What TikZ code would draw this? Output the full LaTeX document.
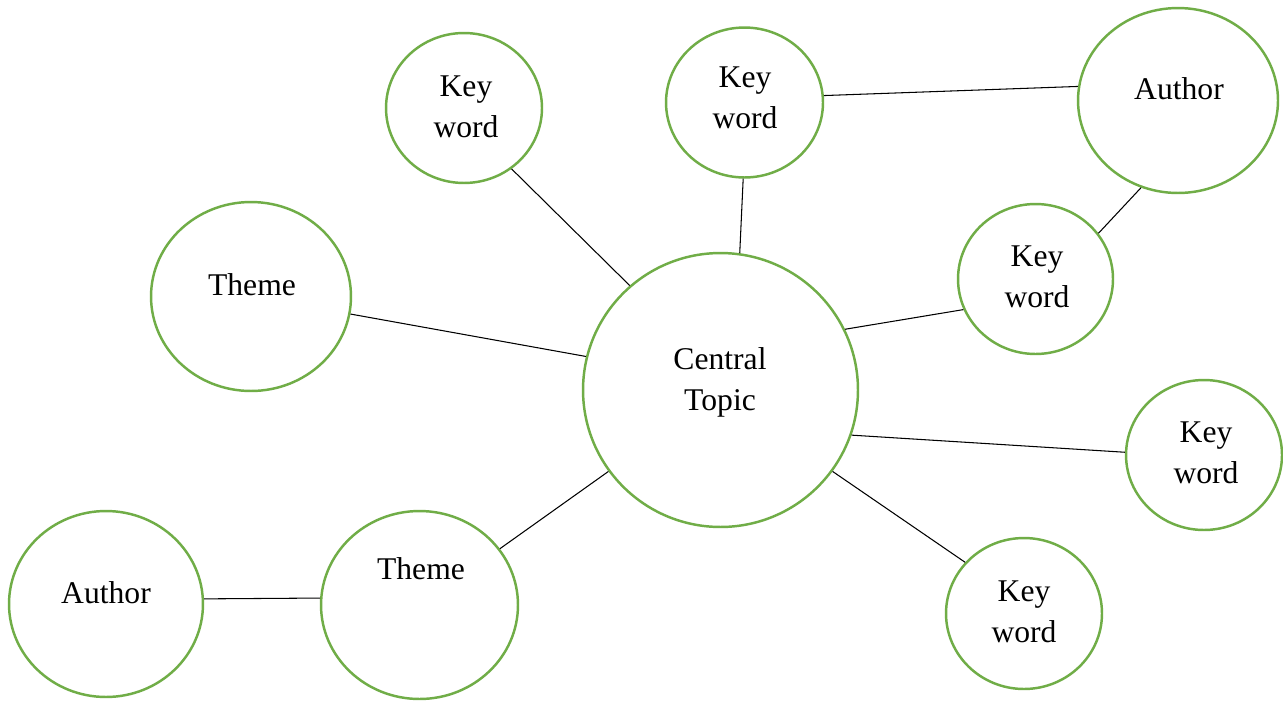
\documentclass[tikz,border=0pt]{standalone}
\usepackage{fontspec}
\setmainfont{Liberation Serif}
\usetikzlibrary{shapes.geometric}
\definecolor{bubble}{HTML}{70AD47}
\tikzset{
  bub/.style={ellipse, draw=bubble, line width=1.4pt, inner sep=0pt, fill=white},
  kw/.style={bub, minimum width=3.12cm, minimum height=3.0cm},
  lbl/.style={inner sep=0pt, align=center, text depth=0pt, font=\fontsize{18}{23}\selectfont},
  link/.style={draw=black, line width=0.6pt}
}
\begin{document}
\begin{tikzpicture}[x=0.02cm, y=-0.02cm]
\useasboundingbox[fill=white] (0,0) rectangle (1283,700);
% bubbles
\node[bub, minimum width=5.5cm, minimum height=5.48cm] (ct) at (720.5,390) {};
\node[kw] (k1) at (464,108) {};
\node[kw, minimum width=3.14cm] (k2) at (744.5,102.5) {};
\node[bub, minimum width=4.0cm, minimum height=3.7cm] (a1) at (1178,100.5) {};
\node[kw, minimum width=3.1cm] (k3) at (1035.5,279) {};
\node[bub, minimum width=4.0cm, minimum height=3.78cm] (t1) at (251,296.5) {};
\node[kw] (k4) at (1204,455) {};
\node[kw, minimum height=3.02cm] (k5) at (1024,613.5) {};
\node[bub, minimum width=3.94cm, minimum height=3.76cm] (t2) at (419.5,605) {};
\node[bub, minimum width=3.88cm, minimum height=3.72cm] (a2) at (106,604) {};
% labels
\node[lbl] (lct) at (720,379) {Central\\Topic};
\node[lbl] (lk1) at (466,106.5) {Key\\word};
\node[lbl] (lk2) at (745,97.5) {Key\\word};
\node[lbl] (la1) at (1179,88.5) {Author};
\node[lbl] (lk3) at (1037,276.5) {Key\\word};
\node[lbl] (lt1) at (252,285) {Theme};
\node[lbl] (lk4) at (1206,452.5) {Key\\word};
\node[lbl] (lk5) at (1024,611.5) {Key\\word};
\node[lbl] (lt2) at (421,569) {Theme};
\node[lbl] (la2) at (106,592.5) {Author};
% connectors
\draw[link] (k1.-52.3) -- (ct.131.1);
\draw[link] (k2.-91.8) -- (ct.82.8);
\draw[link] (k2.5.5) -- (a1.172.3);
\draw[link] (a1.-113.6) -- (k3.36.4);
\draw[link] (k3.-157.7) -- (ct.26.7);
\draw[link] (t1.-10.7) -- (ct.166);
\draw[link] (ct.-19.1) -- (k4.178.5);
\draw[link] (ct.-36.2) -- (k5.139.5);
\draw[link] (ct.216.4) -- (t2.35.4);
\draw[link] (t2.176.5) -- (a2.3);
\end{tikzpicture}
\end{document}
